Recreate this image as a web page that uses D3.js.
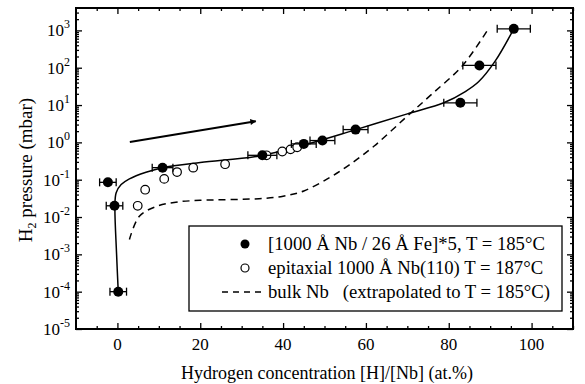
<!DOCTYPE html>
<html><head><meta charset="utf-8">
<script src="https://cdn.jsdelivr.net/npm/d3@7"></script>
<style>body{margin:0;background:#fff}svg{display:block}text{font-family:"Liberation Serif","Times New Roman",serif;fill:#000}</style>
</head><body><svg id="c" width="585" height="384"></svg>
<script>
// ---- data ----
const filledX   = [-2.3, -0.7, 0.2, 10.9, 35.0, 45.0, 49.5, 57.5, 82.8, 87.4, 95.7];
const filledY   = [0.085, 0.02, 1e-4, 0.21, 0.45, 0.91, 1.12, 2.2, 11.5, 115, 1100];
const filledErr = [2, 2, 2, 2.5, 3.5, 3, 3, 3, 4, 4, 4];
const openX = [4.9, 6.7, 11.3, 14.4, 18.3, 26.0, 36.0, 39.8, 41.8, 43.4];
const openY = [0.02, 0.054, 0.105, 0.16, 0.21, 0.26, 0.45, 0.57, 0.65, 0.74];
const fitX = [0.2, -0.2, -0.6, -0.3, 0.9, 2.9, 6.9, 10.9, 20, 34.2, 45, 57, 70, 78.8, 84, 87.2, 91.2, 95.7];
const fitY = [1e-4, 1e-3, 0.02, 0.045, 0.074, 0.105, 0.158, 0.21, 0.29, 0.43, 0.85, 2.1, 5.8, 11.5, 23, 42, 150, 1100];
const bulkX = [2.9, 5.3, 9.3, 14.1, 20, 34.2, 40, 45, 51, 56, 62, 69.5, 76, 83.2, 89.2];
const bulkY = [0.0025, 0.0105, 0.019, 0.025, 0.028, 0.031, 0.036, 0.05, 0.11, 0.25, 0.8, 4.5, 20, 110, 950];
const arrowX = [3.0, 33.4];
const arrowY = [1.03, 3.7];
const xTicks = [0, 20, 40, 60, 80, 100];
const yExps = [-5, -4, -3, -2, -1, 0, 1, 2, 3];
const legendLabels = ["[1000 Å Nb / 26 Å Fe]*5, T = 185°C", "epitaxial 1000 Å Nb(110) T = 187°C", "bulk Nb   (extrapolated to T = 185°C)"];

// ---- layout ----
const L = 76, R = 573, T = 8, B = 329;
const svg = d3.select("#c");
const x = d3.scaleLinear().domain([-10, 110]).range([L, R]);
const y = d3.scaleLog().domain([1e-5, Math.pow(10, 3.6)]).range([B, T]);

const majorY = yExps.map(e => Math.pow(10, e));
const minorY = y.ticks().filter(v => !majorY.some(m => Math.abs(Math.log10(v) - Math.log10(m)) < 1e-6));
const majorX = d3.range(-10, 111, 10).filter(v => v % 20 === 0);
const minorX = d3.range(-5, 111, 5).filter(v => v % 20 !== 0);

function axis(gen, vals, size, tr) {
  const g = svg.append("g").attr("transform", tr).call(gen.tickValues(vals).tickSize(size).tickFormat(""));
  g.select(".domain").remove();
  g.selectAll("line").attr("stroke", "#000").attr("stroke-width", 1.3);
}
axis(d3.axisLeft(y), majorY, -6, `translate(${L},0)`);
axis(d3.axisLeft(y), minorY, -3, `translate(${L},0)`);
axis(d3.axisRight(y), majorY, -6, `translate(${R},0)`);
axis(d3.axisRight(y), minorY, -3, `translate(${R},0)`);
axis(d3.axisBottom(x), majorX, -6, `translate(0,${B})`);
axis(d3.axisBottom(x), minorX, -3, `translate(0,${B})`);
axis(d3.axisTop(x), majorX, -6, `translate(0,${T})`);
axis(d3.axisTop(x), minorX, -3, `translate(0,${T})`);

svg.append("rect").attr("x", L).attr("y", T).attr("width", R - L).attr("height", B - T)
  .attr("fill", "none").attr("stroke", "#000").attr("stroke-width", 2);

// y tick labels
yExps.forEach(e => {
  const t = svg.append("text").attr("x", 70).attr("y", y(Math.pow(10, e)) + 6).attr("text-anchor", "end").style("font-size", "17px");
  t.append("tspan").text("10");
  t.append("tspan").attr("dy", -8).style("font-size", "12px").text(String(e));
});
// x tick labels
xTicks.forEach(v => {
  svg.append("text").attr("x", x(v)).attr("y", 350).attr("text-anchor", "middle").style("font-size", "17px").text(v);
});
// axis titles
svg.append("text").attr("x", 327).attr("y", 379).attr("text-anchor", "middle").style("font-size", "18px")
  .text("Hydrogen concentration [H]/[Nb] (at.%)");
const yt = svg.append("text").attr("transform", "translate(32,170) rotate(-90)").attr("text-anchor", "middle").style("font-size", "19px");
yt.append("tspan").text("H");
yt.append("tspan").attr("dy", 4).style("font-size", "12px").text("2");
yt.append("tspan").attr("dy", -4).text(" pressure (mbar)");

// curves
const line = d3.line().x(d => x(d[0])).y(d => y(d[1])).curve(d3.curveCatmullRom.alpha(0.5));
svg.append("path").attr("d", line(fitX.map((v, i) => [v, fitY[i]])))
  .attr("fill", "none").attr("stroke", "#000").attr("stroke-width", 1.5);
svg.append("path").attr("d", line(bulkX.map((v, i) => [v, bulkY[i]])))
  .attr("fill", "none").attr("stroke", "#000").attr("stroke-width", 1.5).attr("stroke-dasharray", "7,5");

// arrow
svg.append("defs").append("marker").attr("id", "ah").attr("viewBox", "0 0 10 10").attr("refX", 9).attr("refY", 5)
  .attr("markerWidth", 10).attr("markerHeight", 6).attr("markerUnits", "userSpaceOnUse").attr("orient", "auto")
  .append("path").attr("d", "M0,0L10,5L0,10Z").attr("fill", "#000");
svg.append("line").attr("x1", x(arrowX[0])).attr("y1", y(arrowY[0])).attr("x2", x(arrowX[1])).attr("y2", y(arrowY[1]))
  .attr("stroke", "#000").attr("stroke-width", 2).attr("marker-end", "url(#ah)");

// open circles
openX.forEach((v, i) => {
  svg.append("circle").attr("cx", x(v)).attr("cy", y(openY[i])).attr("r", 4.3)
    .attr("fill", "#fff").attr("stroke", "#000").attr("stroke-width", 1.2);
});
// filled with error bars
filledX.forEach((v, i) => {
  const cy = y(filledY[i]), x0 = x(v - filledErr[i]), x1 = x(v + filledErr[i]);
  const g = svg.append("g").attr("stroke", "#000").attr("stroke-width", 1.3);
  g.append("line").attr("x1", x0).attr("x2", x1).attr("y1", cy).attr("y2", cy);
  g.append("line").attr("x1", x0).attr("x2", x0).attr("y1", cy - 4).attr("y2", cy + 4);
  g.append("line").attr("x1", x1).attr("x2", x1).attr("y1", cy - 4).attr("y2", cy + 4);
  svg.append("circle").attr("cx", x(v)).attr("cy", cy).attr("r", 5).attr("fill", "#000");
});

// legend
const lg = svg.append("g");
lg.append("rect").attr("x", 189).attr("y", 226).attr("width", 373).attr("height", 85)
  .attr("fill", "#fff").attr("stroke", "#000").attr("stroke-width", 1.3);
const rows = [244, 268, 292];
lg.append("circle").attr("cx", 245).attr("cy", rows[0]).attr("r", 4.5).attr("fill", "#000");
lg.append("circle").attr("cx", 245).attr("cy", rows[1]).attr("r", 4).attr("fill", "#fff").attr("stroke", "#000").attr("stroke-width", 1.2);
lg.append("line").attr("x1", 222).attr("x2", 264).attr("y1", rows[2]).attr("y2", rows[2])
  .attr("stroke", "#000").attr("stroke-width", 1.5).attr("stroke-dasharray", "6,5");
legendLabels.forEach((s, i) => {
  lg.append("text").attr("x", 268).attr("y", rows[i] + 6).style("font-size", "18.7px").attr("xml:space", "preserve").text(s);
});
</script></body></html>
